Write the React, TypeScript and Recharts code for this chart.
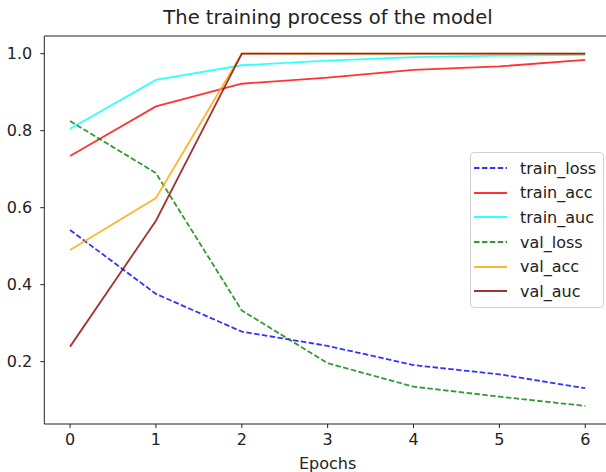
import React from "react";
import { LineChart, Line, XAxis, YAxis, Legend, ReferenceLine } from "recharts";

const epochs = [0, 1, 2, 3, 4, 5, 6];
const trainLoss = [0.542, 0.376, 0.278, 0.241, 0.191, 0.167, 0.131];
const trainAcc = [0.734, 0.863, 0.922, 0.938, 0.958, 0.967, 0.984];
const trainAuc = [0.805, 0.932, 0.970, 0.982, 0.991, 0.995, 0.997];
const valLoss = [0.825, 0.690, 0.333, 0.196, 0.135, 0.109, 0.085];
const valAcc = [0.490, 0.625, 1.0, 1.0, 1.0, 1.0, 1.0];
const valAuc = [0.239, 0.566, 1.0, 1.0, 1.0, 1.0, 1.0];

const xTicks = [0, 1, 2, 3, 4, 5, 6];
const yTicks = [0.2, 0.4, 0.6, 0.8, 1.0];

const data = epochs.map((e, i) => ({
  epoch: e,
  train_loss: trainLoss[i],
  train_acc: trainAcc[i],
  train_auc: trainAuc[i],
  val_loss: valLoss[i],
  val_acc: valAcc[i],
  val_auc: valAuc[i],
}));

const series = [
  { key: "train_loss", color: "#0000ff", dash: "5.5 2.4" },
  { key: "train_acc", color: "#ff0000", dash: undefined },
  { key: "train_auc", color: "#00ffff", dash: undefined },
  { key: "val_loss", color: "#008000", dash: "5.5 2.4" },
  { key: "val_acc", color: "#ffa500", dash: undefined },
  { key: "val_auc", color: "#8b0000", dash: undefined },
];

const FONT = "'DejaVu Sans', sans-serif";
const TXT = "#222";

const LegendBox = () => (
  <div
    style={{
      border: "1px solid #d0d0d0",
      borderRadius: 4,
      background: "rgba(255,255,255,0.8)",
      padding: "3px 4px 3px 3px",
      fontFamily: FONT,
      fontSize: 16,
      color: TXT,
      boxSizing: "border-box",
      width: 134,
      whiteSpace: "nowrap",
    }}
  >
    {series.map((s) => (
      <div key={s.key} style={{ display: "flex", alignItems: "center", height: 24.6 }}>
        <svg width={34} height={10} style={{ marginRight: 12, flexShrink: 0 }}>
          <line
            x1={0}
            y1={5}
            x2={33}
            y2={5}
            stroke={s.color}
            strokeOpacity={0.8}
            strokeWidth={2}
            strokeDasharray={s.dash}
          />
        </svg>
        <span>{s.key}</span>
      </div>
    ))}
  </div>
);

export default function App() {
  return (
    <div style={{ position: "absolute", left: 0, top: 0, width: 606, height: 472, background: "#fff", overflow: "hidden" }}>
      <div
        style={{
          position: "absolute",
          left: 0,
          top: 6,
          width: 656,
          textAlign: "center",
          fontFamily: FONT,
          fontSize: 19.5,
          color: TXT,
          lineHeight: "24px",
        }}
      >
        The training process of the model
      </div>
      <LineChart
        width={606}
        height={472}
        data={data}
        margin={{ top: 36, right: -5, bottom: 0, left: 0 }}
      >
        <XAxis
          dataKey="epoch"
          type="number"
          domain={[-0.3, 6.3]}
          ticks={xTicks}
          allowDataOverflow
          height={48}
          tickSize={4}
          tickMargin={6}
          stroke="#222"
          tick={{ fill: TXT, fontSize: 16, fontFamily: FONT }}
          label={{ value: "Epochs", position: "insideBottom", offset: 3, fill: TXT, fontSize: 16, fontFamily: FONT }}
        />
        <YAxis
          type="number"
          domain={[0.038, 1.046]}
          ticks={yTicks}
          allowDataOverflow
          width={44.3}
          tickSize={4}
          tickMargin={8}
          stroke="#222"
          tickFormatter={(v: number) => v.toFixed(1)}
          tick={{ fill: TXT, fontSize: 16, fontFamily: FONT }}
        />
        <ReferenceLine y={1.046} stroke="#222" strokeWidth={1} />
        {series.map((s) => (
          <Line
            key={s.key}
            dataKey={s.key}
            type="linear"
            stroke={s.color}
            strokeOpacity={0.8}
            strokeWidth={1.8}
            strokeDasharray={s.dash}
            dot={false}
            activeDot={false}
            isAnimationActive={false}
            legendType="line"
          />
        ))}
        <Legend
          layout="horizontal"
          verticalAlign="middle"
          content={() => <LegendBox />}
          wrapperStyle={{ left: 470, top: 152, width: 134, height: 152 }}
        />
      </LineChart>
    </div>
  );
}
